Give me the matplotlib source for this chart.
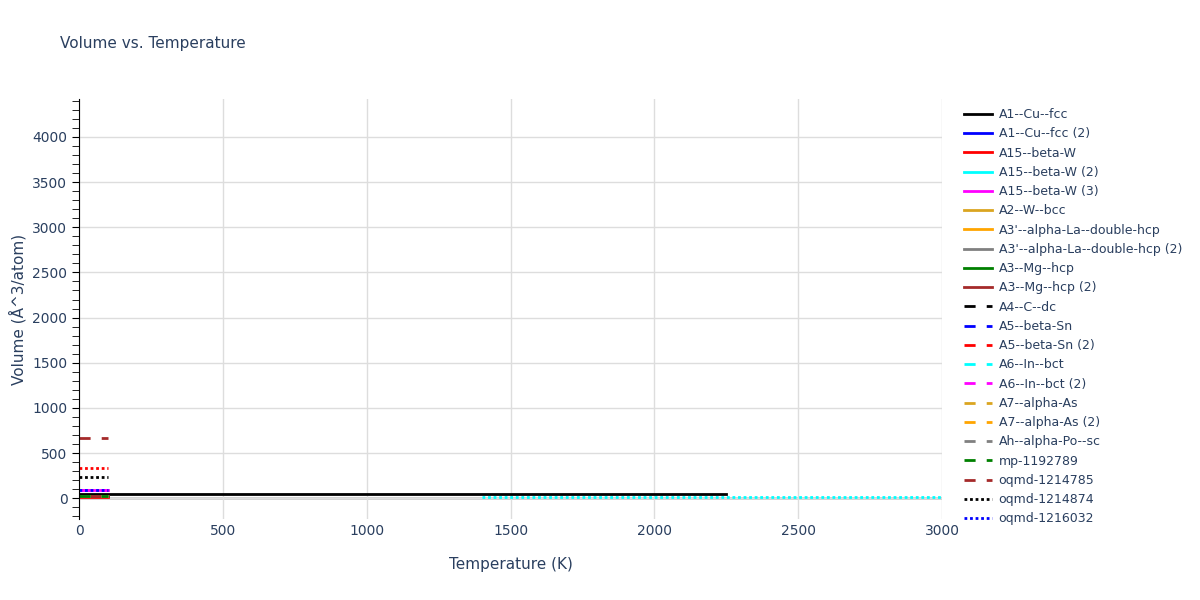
import matplotlib
matplotlib.use("Agg")
import matplotlib.pyplot as plt

# series: name, color, style, x range (K), volume (A^3/atom)
NAMES = ["A1--Cu--fcc", "A1--Cu--fcc (2)", "A15--beta-W", "A15--beta-W (2)", "A15--beta-W (3)",
         "A2--W--bcc", "A3'--alpha-La--double-hcp", "A3'--alpha-La--double-hcp (2)",
         "A3--Mg--hcp", "A3--Mg--hcp (2)", "A4--C--dc", "A5--beta-Sn", "A5--beta-Sn (2)",
         "A6--In--bct", "A6--In--bct (2)", "A7--alpha-As", "A7--alpha-As (2)", "Ah--alpha-Po--sc",
         "mp-1192789", "oqmd-1214785", "oqmd-1214874", "oqmd-1216032", "extra"]
COLORS = ["black", "blue", "red", "cyan", "magenta", "goldenrod", "orange", "gray", "green", "brown",
          "black", "blue", "red", "cyan", "magenta", "goldenrod", "orange", "gray", "green", "brown",
          "black", "blue", "cyan"]
STYLES = ["-"] * 10 + [(0, (4, 4))] * 10 + [(0, (1, 1))] * 3
X_START = [0, 0, 0, 0, 0, 0, 0, 0, 0, 0, 0, 0, 0, 0, 0, 0, 0, 0, 0, 0, 0, 0, 1400]
X_END = [2250, 100, 100, 100, 100, 100, 100, 100, 100, 100, 100, 100, 100, 100, 100, 100, 100, 100, 100, 100, 100, 100, 3000]
VOLUME = [45, 20, 18, 20, 95, 20, 25, 22, 23, 20, 20, 25, 28, 25, 95, 22, 22, 20, 22, 670, 230, 95, 10]
RED_DOTTED = ("oqmd-1214874 (2)", 330)

fig, ax = plt.subplots(figsize=(12, 6), dpi=100)
fig.subplots_adjust(left=0.066, right=0.785, top=0.835, bottom=0.135)
for n, c, s, x0, x1, v in zip(NAMES, COLORS, STYLES, X_START, X_END, VOLUME):
    ax.plot([x0, x1], [v, v], color=c, linestyle=s, lw=2, label=n if n != "extra" else None)
ax.plot([0, 100], [RED_DOTTED[1]] * 2, color="red", linestyle=(0, (1, 1)), lw=2)

ax.set_xlim(0, 3000)
ax.set_ylim(-230, 4420)
ax.set_xticks(range(0, 3001, 500))
ax.set_yticks(range(0, 4001, 500))
ax.set_yticks(range(-200, 4401, 100), minor=True)
ax.grid(True, color="#dddddd", lw=1)
ax.axhline(0, color="#cccccc", lw=2, zorder=0)
for sp in ["top", "right", "bottom"]:
    ax.spines[sp].set_visible(False)
ax.tick_params(colors="#2a3f5f", labelsize=10)
ax.tick_params(axis="y", which="both", direction="out", length=5, color="black")
ax.tick_params(axis="x", length=0)
ax.set_xlabel("Temperature (K)", color="#2a3f5f", fontsize=11, labelpad=14)
ax.set_ylabel("Volume (Å^3/atom)", color="#2a3f5f", fontsize=11)
fig.text(0.05, 0.92, "Volume vs. Temperature", color="#2a3f5f", fontsize=11)
leg = ax.legend(loc="upper left", bbox_to_anchor=(1.012, 1.005), frameon=False, fontsize=9,
                labelcolor="#2a3f5f", handlelength=2.3, handletextpad=0.5, labelspacing=0.5)
fig.savefig("out.png")
